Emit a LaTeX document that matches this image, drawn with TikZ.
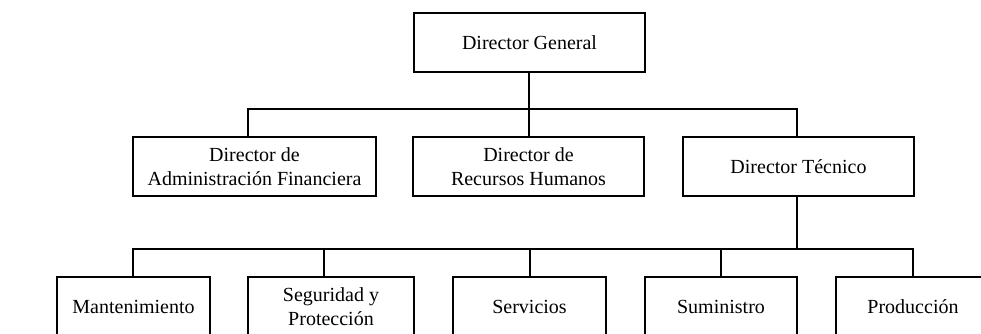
\documentclass[tikz,border=0pt]{standalone}
\usepackage{fontspec}
\setmainfont{Liberation Serif}
\begin{document}
\begin{tikzpicture}[x=1pt,y=-1pt,
  line width=2.7pt, line join=miter,
  box/.style={draw=black, rectangle, inner sep=0pt, minimum height=59pt, align=center,
    font=\fontsize{20}{24.5}\selectfont},
  conn/.style={draw=black, line width=2.7pt}]
\useasboundingbox (0,0) rectangle (981,334);
% level 1
\node[box, minimum width=231pt] (dg) at (529.5,42.5) {Director General};
% level 2
\node[box, minimum width=243pt] (adm) at (254.5,166.5) {Director de\\Administración Financiera};
\node[box, minimum width=231pt] (rrhh) at (528.5,166.5) {Director de\\Recursos Humanos};
\node[box, minimum width=231pt] (tec) at (798.5,166.5) {Director Técnico};
% level 3
\node[box, minimum width=153pt] (man) at (133.5,306.5) {Mantenimiento};
\node[box, minimum width=166pt] (seg) at (331,306.5) {Seguridad y\\Protección};
\node[box, minimum width=153pt] (ser) at (529.5,306.5) {Servicios};
\node[box, minimum width=152pt] (sum) at (721,306.5) {Suministro};
\node[box, minimum width=154pt] (pro) at (913,306.5) {Producción};
% branch points
\coordinate (j1) at (529,109);
\coordinate (a1) at (248,109);
\coordinate (r1) at (529,109);
\coordinate (t1) at (797,109);
\coordinate (j2) at (797,249);
\coordinate (m2) at (133,249);
\coordinate (s2) at (324,249);
\coordinate (v2) at (530,249);
\coordinate (u2) at (721,249);
\coordinate (p2) at (913,249);
% connectors level 1-2
\draw[conn] (dg.south -| j1) -- (j1);
\draw[conn] (a1 |- adm.north) -- (a1) -- (t1) -- (t1 |- tec.north);
\draw[conn] (r1) -- (r1 |- rrhh.north);
% connectors level 2-3
\draw[conn] (tec.south -| j2) -- (j2);
\draw[conn] (m2 |- man.north) -- (m2) -- (p2) -- (p2 |- pro.north);
\draw[conn] (s2) -- (s2 |- seg.north);
\draw[conn] (v2) -- (v2 |- ser.north);
\draw[conn] (u2) -- (u2 |- sum.north);
\end{tikzpicture}
\end{document}
